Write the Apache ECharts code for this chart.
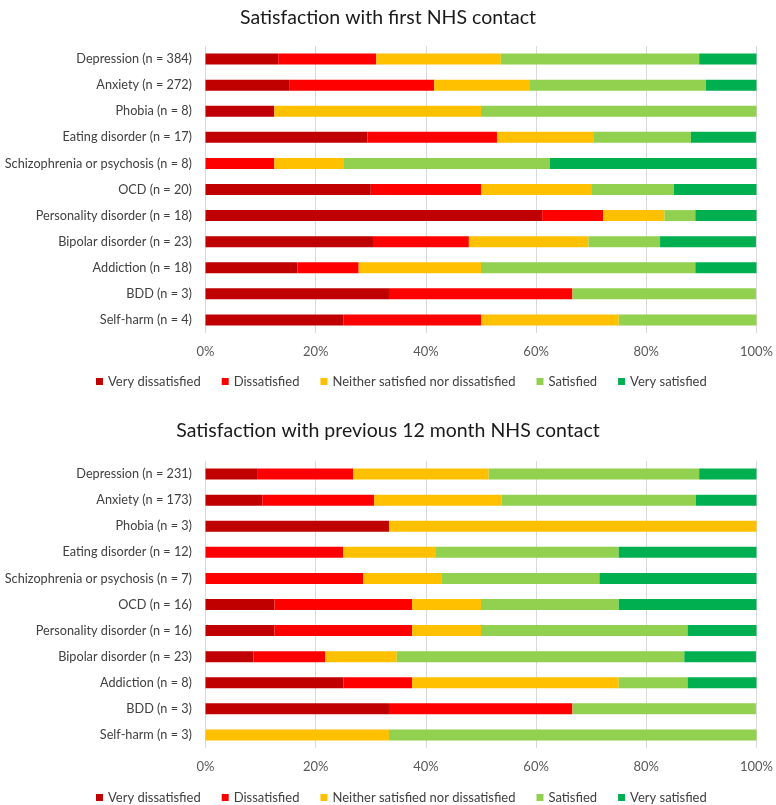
<!DOCTYPE html>
<html>
<head>
<meta charset="UTF-8">
<title>NHS contact satisfaction</title>
<script src="https://cdn.jsdelivr.net/npm/echarts@6/dist/echarts.min.js"></script>
<style>
  html, body { margin: 0; padding: 0; background: #fff; }
  #main { width: 776px; height: 805px; }
</style>
</head>
<body>
<div id="main"></div>
<script>
// categories (top to bottom)
var cats1 = ['Depression (n = 384)', 'Anxiety (n = 272)', 'Phobia (n = 8)', 'Eating disorder (n = 17)',
  'Schizophrenia or psychosis (n = 8)', 'OCD (n = 20)', 'Personality disorder (n = 18)',
  'Bipolar disorder (n = 23)', 'Addiction (n = 18)', 'BDD (n = 3)', 'Self-harm (n = 4)'];
var cats2 = ['Depression (n = 231)', 'Anxiety (n = 173)', 'Phobia (n = 3)', 'Eating disorder (n = 12)',
  'Schizophrenia or psychosis (n = 7)', 'OCD (n = 16)', 'Personality disorder (n = 16)',
  'Bipolar disorder (n = 23)', 'Addiction (n = 8)', 'BDD (n = 3)', 'Self-harm (n = 3)'];

var levels = ['Very dissatisfied', 'Dissatisfied', 'Neither satisfied nor dissatisfied', 'Satisfied', 'Very satisfied'];
var colors = ['#C00000', '#FF0000', '#FFC000', '#92D050', '#00B050'];

// first NHS contact (%)
var veryDis1 = [13.2, 15.3, 12.5, 29.4, 0, 30, 61.1, 30.4, 16.7, 33.3, 25];
var dis1     = [17.8, 26.2, 0, 23.5, 12.5, 20, 11.1, 17.4, 11.1, 33.3, 25];
var neither1 = [22.6, 17.4, 37.5, 17.6, 12.5, 20, 11.1, 21.7, 22.2, 0, 25];
var sat1     = [36.0, 31.9, 50, 17.6, 37.5, 15, 5.6, 13.0, 38.9, 33.3, 25];
var verySat1 = [10.4, 9.2, 0, 11.8, 37.5, 15, 11.1, 17.4, 11.1, 0, 0];

// previous 12 month NHS contact (%)
var veryDis2 = [9.5, 10.3, 33.3, 0, 0, 12.5, 12.5, 8.7, 25, 33.3, 0];
var dis2     = [17.3, 20.3, 0, 25, 28.6, 25, 25, 13.0, 12.5, 33.3, 0];
var neither2 = [24.6, 23.1, 66.7, 16.7, 14.3, 12.5, 12.5, 13.0, 37.5, 0, 33.3];
var sat2     = [38.2, 35.3, 0, 33.3, 28.6, 25, 37.5, 52.2, 12.5, 33.3, 66.7];
var verySat2 = [10.4, 11.0, 0, 25, 28.6, 25, 12.5, 13.0, 12.5, 0, 0];

var xTicks = [0, 20, 40, 60, 80, 100];

var font = 'Lato';
var data1 = [veryDis1, dis1, neither1, sat1, verySat1];
var data2 = [veryDis2, dis2, neither2, sat2, verySat2];

function xAxisFor(idx) {
  return {
    gridIndex: idx, type: 'value', min: xTicks[0], max: xTicks[xTicks.length - 1], interval: 20,
    axisLine: { show: false }, axisTick: { show: false },
    splitLine: { lineStyle: { color: '#D9D9D9', width: 1 } },
    axisLabel: { formatter: '{value}%', color: '#595959', fontFamily: font, fontSize: 13, margin: 12 }
  };
}
function yAxisFor(idx, cats) {
  return {
    gridIndex: idx, type: 'category', data: cats, inverse: true,
    axisLine: { show: false }, axisTick: { show: false }, splitLine: { show: false },
    axisLabel: { color: '#404040', fontFamily: font, fontSize: 12.7, margin: 13.5 }
  };
}

var series = [];
[data1, data2].forEach(function (d, g) {
  d.forEach(function (vals, i) {
    series.push({
      name: levels[i], type: 'bar', stack: 'g' + g, xAxisIndex: g, yAxisIndex: g,
      data: vals, barWidth: 11, itemStyle: { color: colors[i] },
      emphasis: { disabled: true }
    });
  });
});

function legendFor(top) {
  return {
    top: top, left: 91, data: levels, itemWidth: 7, itemHeight: 7, itemGap: 21, icon: 'rect',
    selectedMode: false,
    textStyle: { color: '#404040', fontFamily: font, fontSize: 13 }
  };
}

var myChart = echarts.init(document.getElementById('main'));
myChart.setOption({
  animation: false,
  color: colors,
  title: [
    { text: 'Satisfaction with first NHS contact', left: 'center', top: 3,
      textStyle: { color: '#1a1a1a', fontFamily: font, fontSize: 19.5, fontWeight: 'normal' } },
    { text: 'Satisfaction with previous 12 month NHS contact', left: 'center', top: 416,
      textStyle: { color: '#1a1a1a', fontFamily: font, fontSize: 19.5, fontWeight: 'normal' } }
  ],
  legend: [legendFor(370), legendFor(786)],
  grid: [
    { left: 205.5, right: 18, top: 46, height: 287 },
    { left: 205.5, right: 18, top: 461, height: 287 }
  ],
  xAxis: [xAxisFor(0), xAxisFor(1)],
  yAxis: [yAxisFor(0, cats1), yAxisFor(1, cats2)],
  series: series
});
</script>
</body>
</html>
